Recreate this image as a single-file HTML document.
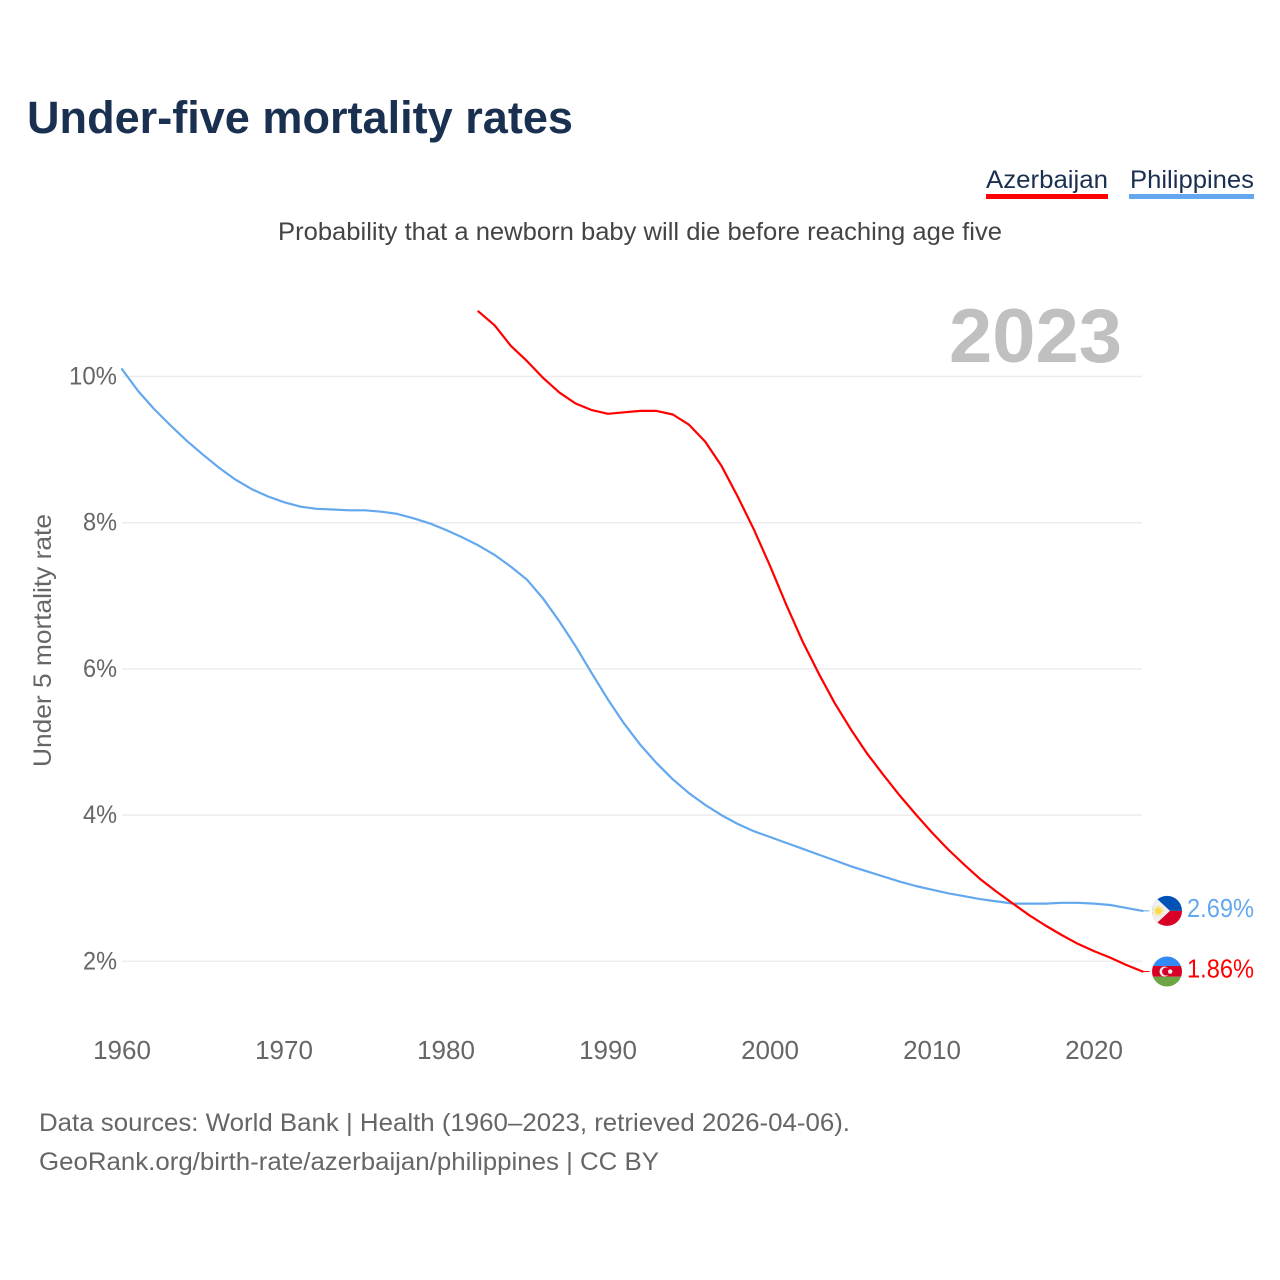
<!DOCTYPE html>
<html lang="en">
<head>
<meta charset="utf-8">
<title>Under-five mortality rates</title>
<style>
html,body{margin:0;padding:0;background:#fff;width:1280px;height:1280px;overflow:hidden}
svg{display:block}
text{font-family:"Liberation Sans",sans-serif}
</style>
</head>
<body>
<svg id="chart" width="1280" height="1280" viewBox="0 0 1280 1280" xmlns="http://www.w3.org/2000/svg">
  <defs>
    <clipPath id="clip-ph"><circle cx="0" cy="0" r="15"/></clipPath>
    <clipPath id="clip-az"><circle cx="0" cy="0" r="15"/></clipPath>
  </defs>
  <rect width="1280" height="1280" fill="#fff"/>
  <text x="27" y="133" font-size="45" font-weight="700" fill="#1a3050" textLength="546" lengthAdjust="spacingAndGlyphs">Under-five mortality rates</text>

  <g>
    <text x="986" y="188" font-size="25" fill="#1a3050" textLength="122" lengthAdjust="spacingAndGlyphs">Azerbaijan</text>
    <rect x="986" y="194" width="122" height="5" fill="#ff0000"/>
  </g>
  <g>
    <text x="1130" y="188" font-size="25" fill="#1a3050" textLength="124" lengthAdjust="spacingAndGlyphs">Philippines</text>
    <rect x="1129" y="194" width="125" height="5" fill="#63a8ee"/>
  </g>

  <text x="278" y="240" font-size="25" fill="#444444" textLength="724" lengthAdjust="spacingAndGlyphs">Probability that a newborn baby will die before reaching age five</text>
  <text x="949" y="362" font-size="76" font-weight="700" fill="#c0c0c0" textLength="173" lengthAdjust="spacingAndGlyphs">2023</text>

  <g id="grid"></g>
  <g id="yticks"></g>
  <g id="xticks"></g>
  <text transform="translate(51,767) rotate(-90)" x="0" y="0" font-size="25" fill="#666666" textLength="253" lengthAdjust="spacingAndGlyphs">Under 5 mortality rate</text>
  <g id="series"></g>

  <g id="flag-ph">
    <g clip-path="url(#clip-ph)">
      <rect x="-15" y="-15.5" width="30" height="15.5" fill="#0052b4"/>
      <rect x="-15" y="0" width="30" height="15.5" fill="#d80027"/>
      <polygon points="-15,-16.7 3,0 -15,16.7" fill="#f0f0f0"/>
      <circle cx="-8.7" cy="0" r="3.4" fill="#ffda44"/>
      <circle cx="-8.7" cy="0" r="4.6" fill="none" stroke="#ffda44" stroke-width="1.2" stroke-dasharray="1.2 1.2"/>
    </g>
  </g>
  <g id="flag-az">
    <g clip-path="url(#clip-az)">
      <rect x="-15" y="-15.5" width="30" height="10" fill="#338af3"/>
      <rect x="-15" y="-5.5" width="30" height="10.7" fill="#d80027"/>
      <rect x="-15" y="5.2" width="30" height="10.5" fill="#6da544"/>
      <circle cx="-2.5" cy="0" r="5" fill="#f0f0f0"/>
      <circle cx="-1" cy="0" r="4" fill="#d80027"/>
      <circle cx="3.2" cy="0" r="2.2" fill="#f0f0f0"/>
    </g>
  </g>
  <text id="value-ph" x="1187" font-size="26" fill="#63a8ee" textLength="67" lengthAdjust="spacingAndGlyphs"></text>
  <text id="value-az" x="1187" font-size="26" fill="#ff0000" textLength="67" lengthAdjust="spacingAndGlyphs"></text>

  <text x="39" y="1131" font-size="25" fill="#666666" textLength="811" lengthAdjust="spacingAndGlyphs">Data sources: World Bank | Health (1960–2023, retrieved 2026-04-06).</text>
  <text x="39" y="1170" font-size="25" fill="#666666" textLength="620" lengthAdjust="spacingAndGlyphs">GeoRank.org/birth-rate/azerbaijan/philippines | CC BY</text>
</svg>
<script>
var yTickValues = [2, 4, 6, 8, 10];
var yTickLabels = ["2%", "4%", "6%", "8%", "10%"];
var xTickValues = [1960, 1970, 1980, 1990, 2000, 2010, 2020];
var xTickLabels = ["1960", "1970", "1980", "1990", "2000", "2010", "2020"];
var philippinesStartYear = 1960;
var philippinesValues = [10.1,9.8,9.55,9.33,9.12,8.93,8.75,8.59,8.46,8.36,8.28,8.22,8.19,8.18,8.17,8.17,8.15,8.12,8.06,7.99,7.9,7.8,7.69,7.56,7.4,7.22,6.96,6.65,6.31,5.94,5.58,5.25,4.96,4.71,4.49,4.3,4.14,4.0,3.88,3.78,3.7,3.62,3.54,3.46,3.38,3.3,3.23,3.16,3.09,3.03,2.98,2.93,2.89,2.85,2.82,2.79,2.79,2.79,2.8,2.8,2.79,2.77,2.73,2.69];
var azerbaijanStartYear = 1982;
var azerbaijanValues = [10.89,10.7,10.42,10.21,9.98,9.78,9.63,9.54,9.49,9.51,9.53,9.53,9.48,9.34,9.11,8.78,8.36,7.91,7.41,6.88,6.38,5.94,5.53,5.17,4.84,4.55,4.27,4.01,3.76,3.53,3.32,3.12,2.95,2.79,2.63,2.49,2.36,2.24,2.14,2.05,1.95,1.86];
var philippinesValueLabel = "2.69%";
var azerbaijanValueLabel = "1.86%";

var NS = "http://www.w3.org/2000/svg";
function xScale(year) { return 122 + (year - 1960) * 16.2; }
function yScale(v) { return 961.3 - (v - 2) * 73.1; }
function make(tag, attrs, parent) {
  var el = document.createElementNS(NS, tag);
  for (var k in attrs) { el.setAttribute(k, attrs[k]); }
  parent.appendChild(el);
  return el;
}
var grid = document.getElementById("grid");
var yticks = document.getElementById("yticks");
var xticks = document.getElementById("xticks");
var series = document.getElementById("series");

yTickValues.forEach(function (v, i) {
  var y = yScale(v);
  var line = make("line", {x1: 122, x2: 1142, y1: y, y2: y, stroke: "#ececec", "stroke-width": 1.5}, grid);
  
  
  var label = make("text", {x: 117, y: y + 8, "text-anchor": "end", "font-size": 25, fill: "#666666"}, yticks);
  
  
  label.setAttribute("textLength", yTickLabels[i].length === 3 ? 48 : 34);
  label.setAttribute("lengthAdjust", "spacingAndGlyphs");
  label.textContent = yTickLabels[i];
});

xTickValues.forEach(function (year, i) {
  var label = make("text", {x: xScale(year), y: 1059, "text-anchor": "middle", "font-size": 26, fill: "#666666"}, xticks);
  
  
  label.textContent = xTickLabels[i];
});

function drawLine(values, startYear, color, name) {
  var pts = values.map(function (v, i) {
    return xScale(startYear + i).toFixed(1) + "," + yScale(v).toFixed(1);
  });
  var path = make("polyline", {points: pts.join(" "), fill: "none", stroke: color, "stroke-width": 2.2, "stroke-linejoin": "round", "stroke-linecap": "round"}, series);
  
  
  var lastY = yScale(values[values.length - 1]);
  var lastX = xScale(startYear + values.length - 1);
  var conn = make("line", {x1: lastX, x2: lastX + 7, y1: lastY, y2: lastY, stroke: color, "stroke-width": 1}, series);
  
  
  return lastY;
}
var lastPh = drawLine(philippinesValues, philippinesStartYear, "#63a8ee", "philippines-line");
var lastAz = drawLine(azerbaijanValues, azerbaijanStartYear, "#ff0000", "azerbaijan-line");

document.getElementById("flag-ph").setAttribute("transform", "translate(1167," + lastPh + ")");
document.getElementById("flag-az").setAttribute("transform", "translate(1167," + lastAz + ")");
var vp = document.getElementById("value-ph");
vp.setAttribute("y", lastPh + 6);
vp.textContent = philippinesValueLabel;
var va = document.getElementById("value-az");
va.setAttribute("y", lastAz + 6);
va.textContent = azerbaijanValueLabel;
</script>
</body>
</html>
